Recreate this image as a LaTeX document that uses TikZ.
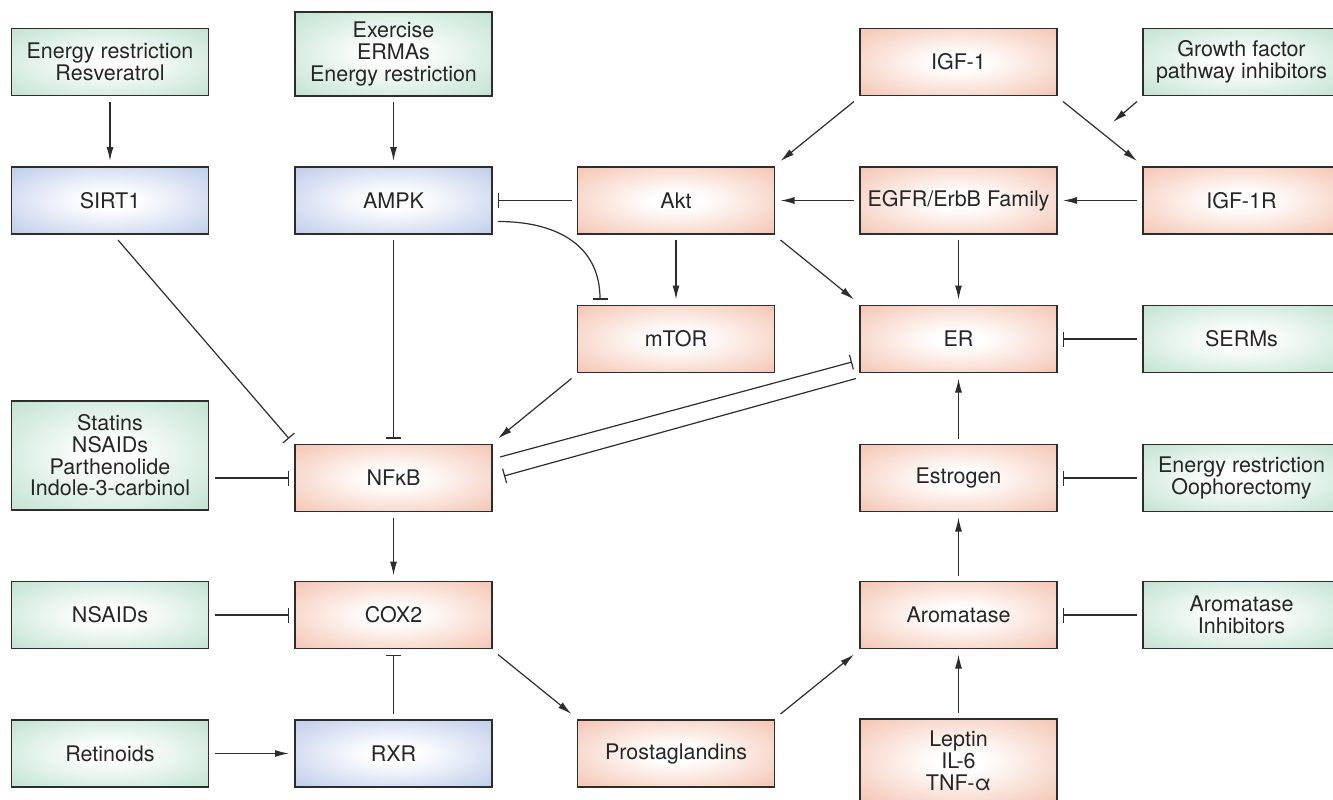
\documentclass[tikz,border=0pt]{standalone}
\usepackage{fontspec}
\setmainfont{TeX Gyre Heros}
\usetikzlibrary{arrows.meta}

\definecolor{salmon}{RGB}{242,188,167}
\definecolor{mint}{RGB}{184,222,202}
\definecolor{lilac}{RGB}{180,197,231}
\definecolor{edgegray}{RGB}{45,45,45}

\pgfdeclareradialshading{redglow}{\pgfpoint{0bp}{0bp}}{color(0bp)=(white); color(6bp)=(white); color(40bp)=(salmon); color(50bp)=(salmon)}
\pgfdeclareradialshading{greenglow}{\pgfpoint{0bp}{0bp}}{color(0bp)=(white); color(6bp)=(white); color(40bp)=(mint); color(50bp)=(mint)}
\pgfdeclareradialshading{blueglow}{\pgfpoint{0bp}{0bp}}{color(0bp)=(white); color(6bp)=(white); color(40bp)=(lilac); color(50bp)=(lilac)}

\tikzset{
  box/.style={draw=edgegray, line width=1.4pt, minimum width=197pt, minimum height=67pt,
    inner sep=0pt, outer sep=6pt, align=center, text=black!85,
    font=\fontsize{21.5}{21.7}\selectfont},
  redbox/.style={box, shading=redglow},
  greenbox/.style={box, shading=greenglow},
  bluebox/.style={box, shading=blueglow},
  act/.style={draw=edgegray, line width=1.2pt, -{Latex[length=14pt,width=7pt]}},
  inh/.style={draw=edgegray, line width=1.2pt, -{Bar[width=15pt,line width=1.2pt]}}
}

\begin{document}
\begin{tikzpicture}[x=1pt,y=-1pt]
  \useasboundingbox (0,0) rectangle (1333,800);
  % left side
  \node[greenbox] (enres) at (110,62) {Energy restriction\\Resveratrol};
  \node[greenbox, minimum height=84pt] (exer) at (393.5,54) {Exercise\\ERMAs\\Energy restriction};
  \node[bluebox] (sirt) at (110,200.5) {SIRT1};
  \node[bluebox] (ampk) at (393.5,200.5) {AMPK};
  \node[greenbox, minimum height=109pt] (statins) at (110,455.5) {Statins\\NSAIDs\\Parthenolide\\Indole-3-carbinol};
  \node[redbox] (nfkb) at (393.5,478) {NFκB};
  \node[greenbox] (nsaid) at (110,615) {NSAIDs};
  \node[redbox] (cox) at (393.5,615) {COX2};
  \node[greenbox] (retin) at (110,753.5) {Retinoids};
  \node[bluebox] (rxr) at (393.5,753.5) {RXR};
  % middle
  \node[redbox] (akt) at (676,200.5) {Akt};
  \node[redbox] (mtor) at (676,339) {mTOR};
  \node[redbox] (prost) at (676,753.5) {Prostaglandins};
  % right side
  \node[redbox] (igf) at (958.5,62) {IGF-1};
  \node[greenbox] (gf) at (1241.5,62) {Growth factor\\pathway inhibitors};
  \node[redbox] (egfr) at (958.5,200.5) {EGFR/ErbB Family};
  \node[redbox] (igfr) at (1241.5,200.5) {IGF-1R};
  \node[redbox] (er) at (958.5,339) {ER};
  \node[greenbox] (serms) at (1241.5,339) {SERMs};
  \node[redbox] (estr) at (958.5,478) {Estrogen};
  \node[greenbox] (ooph) at (1241.5,478) {Energy restriction\\Oophorectomy};
  \node[redbox] (arom) at (958.5,615) {Aromatase};
  \node[greenbox] (aromi) at (1241.5,615) {Aromatase\\Inhibitors};
  \node[redbox, minimum height=84pt] (leptin) at (958.5,761) {Leptin\\IL-6\\TNF-α};
  \coordinate (gfend) at (1113,122);

  % connectors
  \draw[act] (enres) -- (sirt);
  \draw[act] (exer) -- (ampk);
  \draw[inh] ([xshift=8pt]sirt.south) -- (nfkb.north west);
  \draw[inh] (ampk) -- (nfkb);
  \draw[inh] ([yshift=-21pt]ampk.east) .. controls +(62pt,0pt) and +(0pt,52pt) .. ([xshift=-76pt]mtor.north);
  \draw[inh] (akt) -- (ampk);
  \draw[act] (akt) -- (mtor);
  \draw[act] (akt.south east) -- (er.north west);
  \draw[act] (igf.south west) -- (akt.north east);
  \draw[act] (igf.south east) -- (igfr.north west);
  \draw[act] (gf.south west) -- (gfend);
  \draw[act] (igfr) -- (egfr);
  \draw[act] (egfr) -- (akt);
  \draw[act] (egfr) -- (er);
  \draw[inh] (serms) -- (er);
  \draw[act] (mtor.south west) -- (nfkb.north east);
  \draw[inh] ([yshift=21pt,xshift=2pt]nfkb.east) -- ([yshift=-23pt,xshift=-2pt]er.west);
  \draw[inh] ([xshift=2pt]er.south west) -- ([xshift=6pt,yshift=2pt]nfkb.east);
  \draw[inh] (statins.east |- nfkb.west) -- (nfkb.west);
  \draw[act] (nfkb) -- (cox);
  \draw[inh] (nsaid) -- (cox);
  \draw[inh] (rxr) -- (cox);
  \draw[act] (retin) -- (rxr);
  \draw[act] (cox.south east) -- (prost.north west);
  \draw[act] (prost.north east) -- (arom.south west);
  \draw[act] (leptin) -- (arom);
  \draw[act] (arom) -- (estr);
  \draw[act] (estr) -- (er);
  \draw[inh] (ooph) -- (estr);
  \draw[inh] (aromi) -- (arom);
\end{tikzpicture}
\end{document}
